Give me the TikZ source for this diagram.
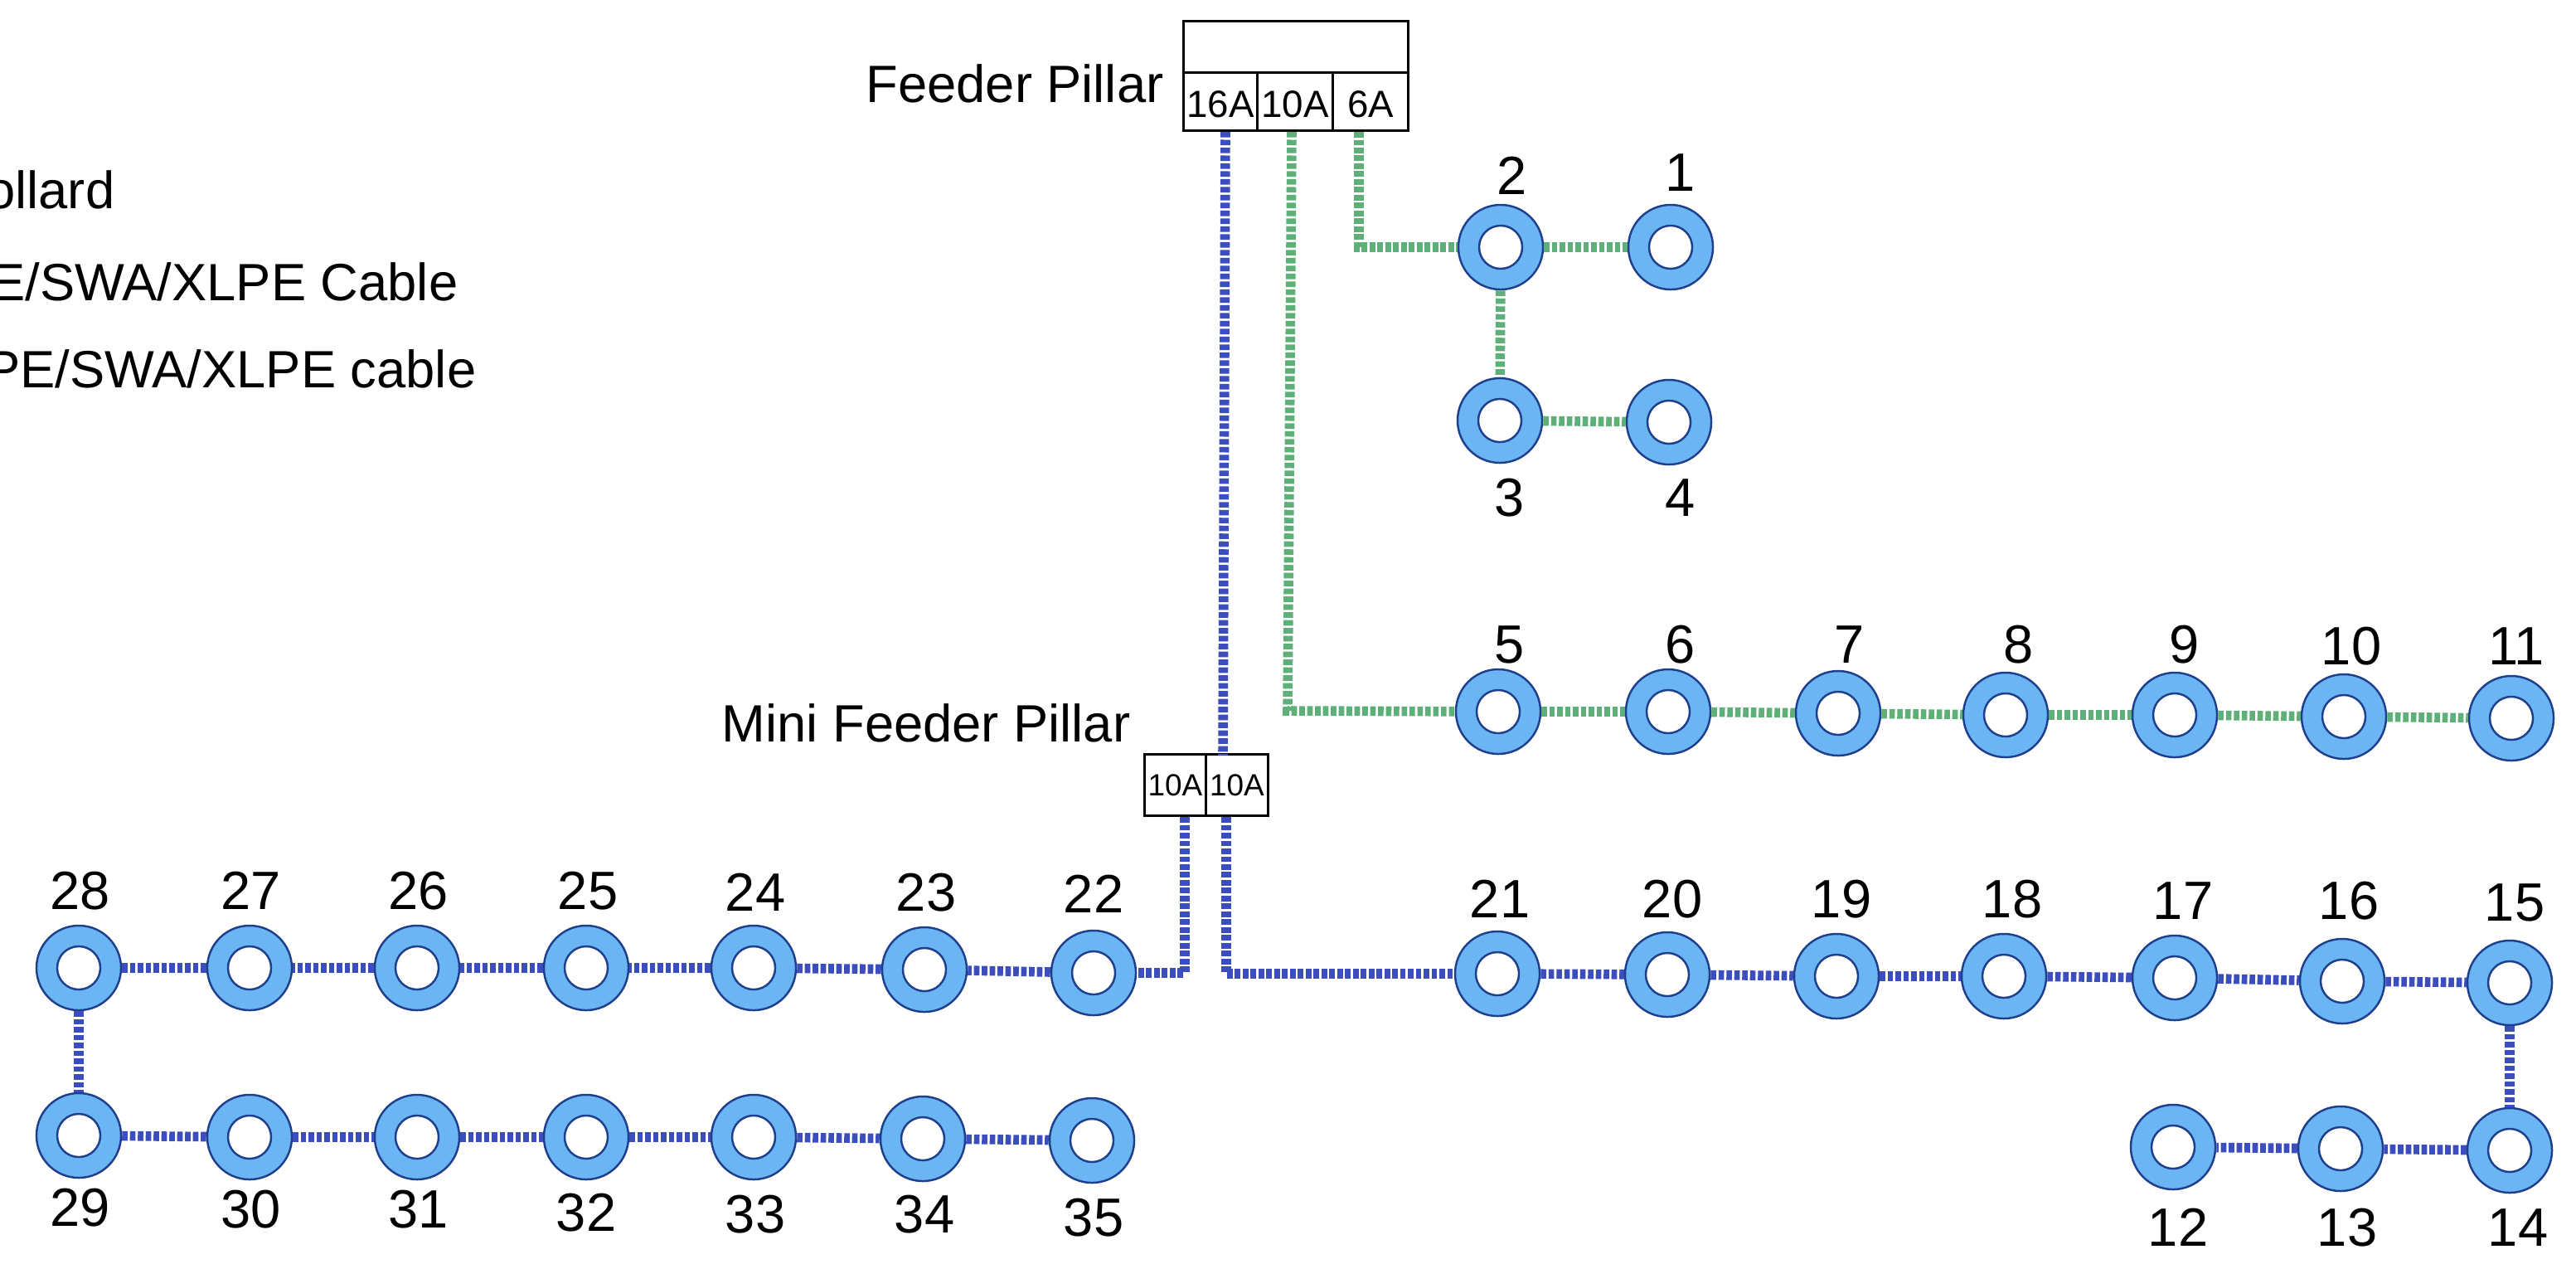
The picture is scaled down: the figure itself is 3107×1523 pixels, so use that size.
\documentclass[tikz,border=0pt]{standalone}
\usepackage{fontspec}
\setmainfont{Liberation Sans}
\usepackage{tikz}
\usetikzlibrary{backgrounds}
\definecolor{ringfill}{HTML}{6BB5F2}
\definecolor{ringline}{HTML}{1E3F8C}
\definecolor{greencable}{HTML}{5FB078}
\definecolor{bluecable}{HTML}{3C4DBE}
\tikzset{
  bollard/.style={shape=circle,draw=ringline,fill=ringfill,line width=0.7pt,inner sep=0pt,minimum size=1.02cm,
    path picture={\draw[ringline,fill=white,line width=0.7pt] (path picture bounding box.center) circle (0.26cm);}},
  num/.style={font=\fontsize{18.5}{22}\selectfont,inner sep=0pt},
  caption/.style={font=\fontsize{18}{22}\selectfont,inner sep=0pt},
  legendtext/.style={caption,anchor=base east},
  cable/.style={line width=3.3pt,dash pattern=on 1.9pt off 0.8pt},
  green cable/.style={cable,draw=greencable},
  blue cable/.style={cable,draw=bluecable},
  pillar/.style={shape=rectangle,draw,line width=0.8pt,inner sep=0pt,anchor=south west},
  switch/.style={pillar,minimum height=0.70cm,text height=0.39cm,font=\fontsize{13}{15}\selectfont},
  miniswitch/.style={pillar,minimum height=0.74cm,font=\fontsize{10.5}{12}\selectfont},
}
\begin{document}
\begin{tikzpicture}[x=0.01cm,y=-0.01cm]
  \useasboundingbox[fill=white] (0,0) rectangle (3107,1523);
  % legend
  \node[legendtext] (leg1) at (139,251) {ollard};
  \node[legendtext] (leg2) at (553,362) {E/SWA/XLPE Cable};
  \node[legendtext] (leg3) at (575,467) {PE/SWA/XLPE cable};
  % feeder pillar
  \node[pillar,minimum width=2.71cm,minimum height=0.62cm] (fptop) at (1426,89) {};
  \node[switch,minimum width=0.89cm] (sw16) at (1426,159) {16A};
  \node[switch,minimum width=0.91cm] (sw10) at (1515,159) {10A};
  \node[switch,minimum width=0.91cm] (sw6) at (1606,159) {6A};
  \node[caption] (fplabel) at (1224,101) {Feeder Pillar};
  % mini feeder pillar
  \node[miniswitch,minimum width=0.74cm] (miniA) at (1379,985) {10A};
  \node[miniswitch,minimum width=0.75cm] (miniB) at (1453,985) {10A};
  \node[caption] (minilabel) at (1117,872) {Mini Feeder Pillar};
  % bollards: number/x/y/label x/label y
  \foreach \n/\x/\y/\lx/\ly in {
    1/2015/298/2027/208, 2/1810/298/1824/212, 3/1809/507/1821/600, 4/2013/509/2027/600,
    5/1807/858/1821/777, 6/2012/858/2027/777, 7/2217/860/2231/777, 8/2419/862/2435/777,
    9/2623/862/2635/777, 10/2827/864/2836/779, 11/3029/866/3035/779,
    12/2621/1383/2627/1480, 13/2823/1385/2831/1480, 14/3027/1387/3037/1480,
    15/3027/1185/3033/1088, 16/2825/1183/2833/1086, 17/2623/1179/2633/1086,
    18/2417/1177/2427/1084, 19/2215/1177/2221/1084, 20/2011/1175/2017/1084, 21/1806/1174/1809/1084,
    22/1319/1173/1319/1078, 23/1115/1169/1117/1076, 24/909/1167/911/1076, 25/707/1167/709/1074,
    26/503/1167/505/1074, 27/301/1167/303/1074, 28/95/1167/97/1074,
    29/95/1369/97/1456, 30/301/1371/303/1458, 31/503/1371/505/1458, 32/707/1371/707/1462,
    33/909/1371/911/1464, 34/1113/1373/1115/1464, 35/1317/1375/1319/1468}
  {
    \node[bollard] (b\n) at (\x,\y) {};
    \node[num] (num\n) at (\lx,\ly) {\n};
  }
  % cable ends and bends
  \coordinate (out16) at (1478,159);
  \coordinate (out10) at (1558,159);
  \coordinate (out6) at (1639,159);
  \coordinate (in16) at (1475,911);
  \coordinate (bend10) at (1553,857);
  \coordinate (outA) at (1429,985);
  \coordinate (outB) at (1479,985);
  % green runs
  \draw[green cable] (out6) |- (b2);
  \draw[green cable] (out10) -- (bend10) -- (b5);
  \foreach \a/\b in {2/1,2/3,3/4,5/6,6/7,7/8,8/9,9/10,10/11}
    \draw[green cable] (b\a) -- (b\b);
  % blue runs
  \draw[blue cable] (out16) -- (in16);
  \draw[blue cable] (outA) |- (b22);
  \draw[blue cable] (outB) |- (b21);
  \foreach \a/\b in {21/20,20/19,19/18,18/17,17/16,16/15,15/14,14/13,13/12,
    22/23,23/24,24/25,25/26,26/27,27/28,28/29,29/30,30/31,31/32,32/33,33/34,34/35}
    \draw[blue cable] (b\a) -- (b\b);
\end{tikzpicture}
\end{document}
